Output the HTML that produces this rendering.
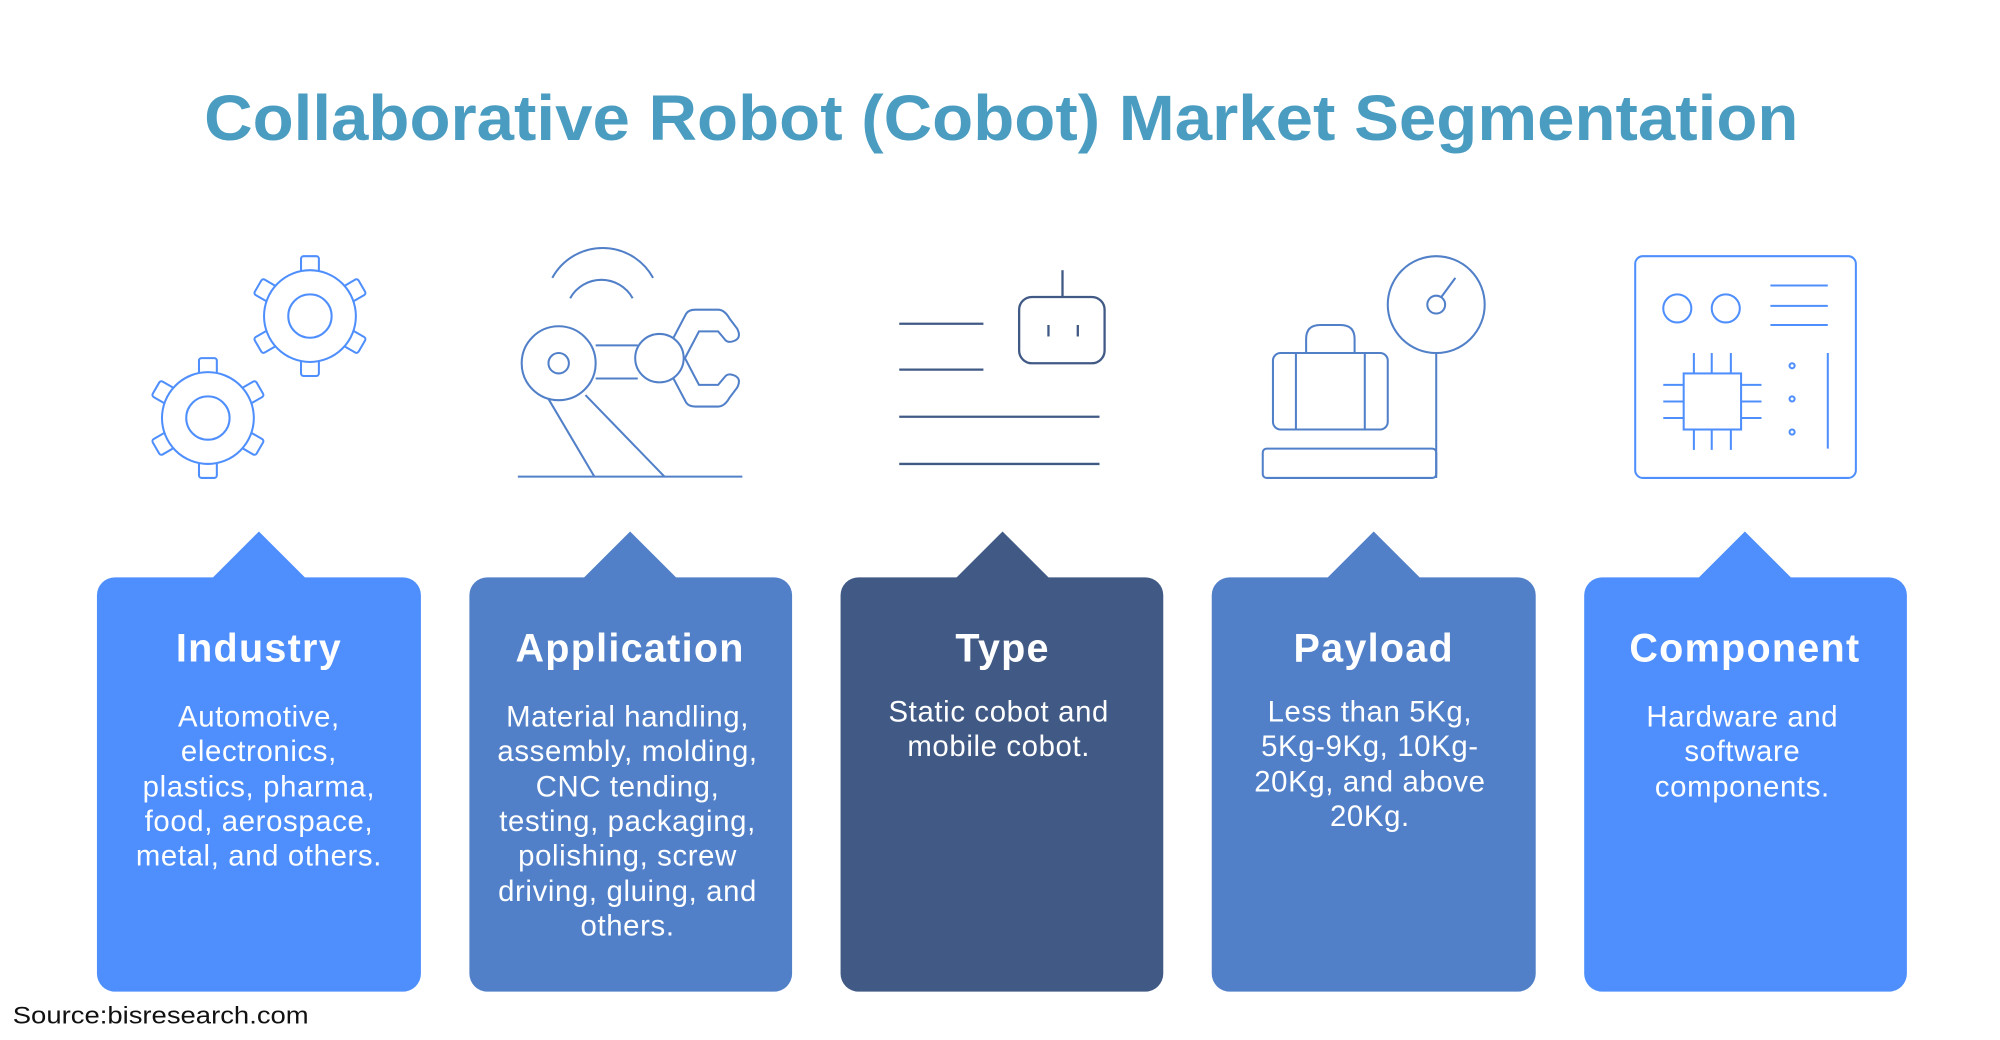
<!DOCTYPE html>
<html><head><meta charset="utf-8"><style>
html,body{margin:0;padding:0;background:#fff;}
svg{display:block;}
text{font-family:"Liberation Sans",sans-serif;}
</style></head><body>
<svg width="2000" height="1040" viewBox="0 0 1568 816" preserveAspectRatio="none" xmlns="http://www.w3.org/2000/svg">
<rect width="1568" height="816" fill="#fff"/>
<text x="785" y="110" text-anchor="middle" font-size="50" font-weight="bold" fill="#4a9cc1" textLength="1250" lengthAdjust="spacingAndGlyphs">Collaborative Robot (Cobot) Market Segmentation</text>

<defs>
<g id="gear">
  <g fill="#fff" stroke="#4f8ffd" stroke-width="1.6">
    <rect x="-7" y="-47" width="14" height="16" rx="2"/>
    <rect x="-7" y="-47" width="14" height="16" rx="2" transform="rotate(60)"/>
    <rect x="-7" y="-47" width="14" height="16" rx="2" transform="rotate(120)"/>
    <rect x="-7" y="-47" width="14" height="16" rx="2" transform="rotate(180)"/>
    <rect x="-7" y="-47" width="14" height="16" rx="2" transform="rotate(240)"/>
    <rect x="-7" y="-47" width="14" height="16" rx="2" transform="rotate(300)"/>
    <circle r="36"/>
    <circle r="17"/>
  </g>
</g>
</defs>
<use href="#gear" x="243" y="248"/>
<use href="#gear" x="163" y="328"/>

<!-- robot arm -->
<g fill="none" stroke="#5180c9" stroke-width="1.6">
  <path d="M433 218 A45 45 0 0 1 512 218"/>
  <path d="M447 234 A28 28 0 0 1 496 234"/>
  <line x1="406" y1="374" x2="582" y2="374"/>
  <line x1="430" y1="313" x2="466" y2="374"/>
  <line x1="459" y1="310" x2="521" y2="374"/>
  <circle cx="438" cy="285" r="29" fill="#fff"/>
  <circle cx="438" cy="285" r="8"/>
  <line x1="467" y1="271" x2="500" y2="271"/>
  <line x1="467" y1="297" x2="500" y2="297"/>
  <path d="M528 265 L538 246 Q540 243 545 243 L563 243 Q568 243 572 250 L578 258 Q582 266 574 268 Q570 269 568 266 L563 260 L548 260 L537 281 L548 302 L563 302 L568 296 Q570 293 574 294 Q582 296 578 304 L572 312 Q568 319 563 319 L545 319 Q540 319 538 316 L528 297"/>
  <circle cx="517" cy="281" r="19" fill="#fff"/>
</g>

<!-- type icon -->
<g fill="none" stroke="#415a85" stroke-width="1.8">
  <line x1="705" y1="254" x2="771" y2="254"/>
  <line x1="705" y1="290" x2="771" y2="290"/>
  <line x1="705" y1="327" x2="862" y2="327"/>
  <line x1="705" y1="364" x2="862" y2="364"/>
  <rect x="799" y="233" width="67" height="52" rx="10"/>
  <line x1="833" y1="212" x2="833" y2="233"/>
  <line x1="822" y1="255" x2="822" y2="264"/>
  <line x1="845" y1="255" x2="845" y2="264"/>
</g>

<!-- payload icon -->
<g fill="none" stroke="#5180c9" stroke-width="1.6">
  <circle cx="1126" cy="239" r="38"/>
  <circle cx="1126" cy="239" r="7"/>
  <line x1="1130" y1="233" x2="1141" y2="218"/>
  <line x1="1126" y1="277" x2="1126" y2="375"/>
  <rect x="990" y="352" width="136" height="23" rx="3"/>
  <rect x="998" y="277" width="90" height="60" rx="6"/>
  <line x1="1016" y1="277" x2="1016" y2="337"/>
  <line x1="1070" y1="277" x2="1070" y2="337"/>
  <path d="M1024 277 L1024 266 Q1024 255 1035 255 L1051 255 Q1062 255 1062 266 L1062 277"/>
</g>

<!-- component icon -->
<g fill="none" stroke="#4f8ffd" stroke-width="1.6">
  <rect x="1282" y="201" width="173" height="174" rx="6"/>
  <circle cx="1315" cy="242" r="11"/>
  <circle cx="1353" cy="242" r="11"/>
  <line x1="1388" y1="224" x2="1433" y2="224"/>
  <line x1="1388" y1="240" x2="1433" y2="240"/>
  <line x1="1388" y1="255" x2="1433" y2="255"/>
  <rect x="1320" y="293" width="45" height="44"/>
  <line x1="1328" y1="277" x2="1328" y2="293"/><line x1="1342" y1="277" x2="1342" y2="293"/><line x1="1357" y1="277" x2="1357" y2="293"/>
  <line x1="1328" y1="337" x2="1328" y2="353"/><line x1="1342" y1="337" x2="1342" y2="353"/><line x1="1357" y1="337" x2="1357" y2="353"/>
  <line x1="1304" y1="302" x2="1320" y2="302"/><line x1="1304" y1="315" x2="1320" y2="315"/><line x1="1304" y1="328" x2="1320" y2="328"/>
  <line x1="1365" y1="302" x2="1381" y2="302"/><line x1="1365" y1="315" x2="1381" y2="315"/><line x1="1365" y1="328" x2="1381" y2="328"/>
  <circle cx="1405" cy="287" r="2"/><circle cx="1405" cy="313" r="2"/><circle cx="1405" cy="339" r="2"/>
  <line x1="1433" y1="277" x2="1433" y2="352"/>
</g>

<!-- cards -->
<g>
  <rect x="76" y="453" width="254" height="325" rx="14" fill="#4f8ffd"/>
  <polygon points="166,454 203,417 240,454" fill="#4f8ffd"/>
  <rect x="368" y="453" width="253" height="325" rx="14" fill="#5180c9"/>
  <polygon points="457,454 494,417 531,454" fill="#5180c9"/>
  <rect x="659" y="453" width="253" height="325" rx="14" fill="#415a85"/>
  <polygon points="749,454 786,417 823,454" fill="#415a85"/>
  <rect x="950" y="453" width="254" height="325" rx="14" fill="#5180c9"/>
  <polygon points="1040,454 1077,417 1114,454" fill="#5180c9"/>
  <rect x="1242" y="453" width="253" height="325" rx="14" fill="#4f8ffd"/>
  <polygon points="1331,454 1368,417 1405,454" fill="#4f8ffd"/>
</g>
<g fill="#fff" text-anchor="middle" font-weight="bold" font-size="31" letter-spacing="1">
  <text x="203" y="519">Industry</text>
  <text x="494" y="519">Application</text>
  <text x="786" y="519">Type</text>
  <text x="1077" y="519">Payload</text>
  <text x="1368" y="519">Component</text>
</g>
<g fill="#fff" text-anchor="middle" font-size="23" letter-spacing="0.5">
  <text x="203" y="570">Automotive,</text>
  <text x="203" y="597">electronics,</text>
  <text x="203" y="625">plastics, pharma,</text>
  <text x="203" y="652">food, aerospace,</text>
  <text x="203" y="679">metal, and others.</text>

  <text x="492" y="570">Material handling,</text>
  <text x="492" y="597">assembly, molding,</text>
  <text x="492" y="625">CNC tending,</text>
  <text x="492" y="652">testing, packaging,</text>
  <text x="492" y="679">polishing, screw</text>
  <text x="492" y="707">driving, gluing, and</text>
  <text x="492" y="734">others.</text>

  <text x="783" y="566">Static cobot and</text>
  <text x="783" y="593">mobile cobot.</text>

  <text x="1074" y="566">Less than 5Kg,</text>
  <text x="1074" y="593">5Kg-9Kg, 10Kg-</text>
  <text x="1074" y="621">20Kg, and above</text>
  <text x="1074" y="648">20Kg.</text>

  <text x="1366" y="570">Hardware and</text>
  <text x="1366" y="597">software</text>
  <text x="1366" y="625">components.</text>
</g>
<text x="10" y="803" font-size="19" fill="#111" textLength="232" lengthAdjust="spacingAndGlyphs">Source:bisresearch.com</text>
</svg>
</body></html>
